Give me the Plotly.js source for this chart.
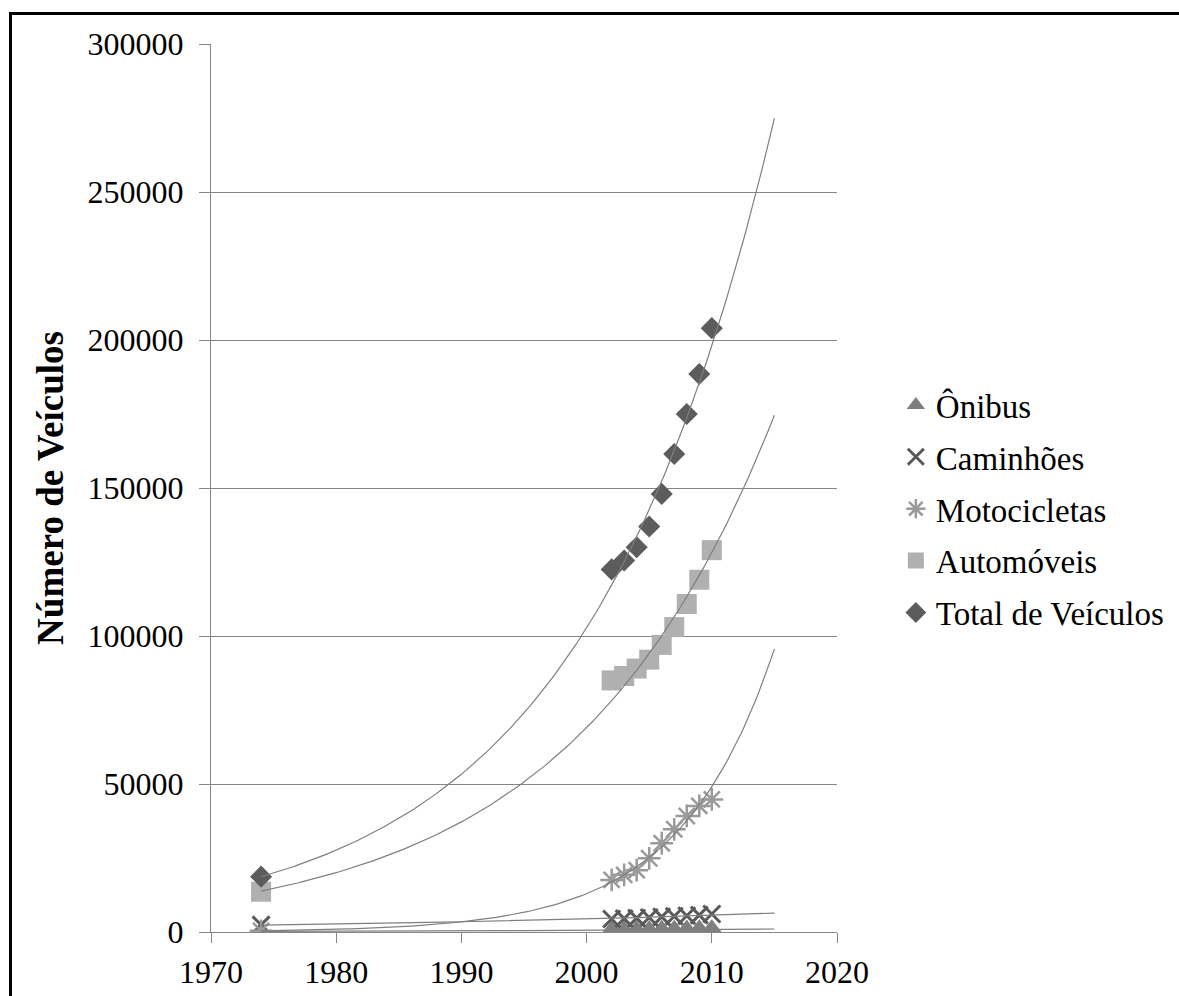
<!DOCTYPE html>
<html>
<head>
<meta charset="utf-8">
<script src="https://cdn.plot.ly/plotly-3.0.1.min.js"></script>
<style>
  html, body { margin: 0; padding: 0; background: #ffffff; }
  #wrap { position: relative; width: 1179px; height: 996px; overflow: hidden; }
  #chart { position: absolute; left: 0; top: 0; width: 1179px; height: 996px; }
  #frame { position: absolute; left: 9px; top: 12px; width: 1200px; height: 1100px;
           border-top: 3px solid #000; border-left: 3px solid #000; pointer-events: none; }
</style>
</head>
<body>
<div id="wrap">
  <div id="chart"></div>
  <div id="frame"></div>
</div>
<script>
// ---- data ----
const years = [1974, 2002, 2003, 2004, 2005, 2006, 2007, 2008, 2009, 2010];
const onibus       = [250, 560, 600, 640, 680, 720, 780, 840, 900, 960];
const caminhoes    = [2400, 4400, 4500, 4700, 4900, 5100, 5300, 5500, 5700, 6100];
const motocicletas = [400, 17600, 19300, 20900, 24900, 30000, 34700, 39200, 42600, 44800];
const automoveis   = [13600, 85000, 86500, 89000, 92000, 97000, 103000, 110800, 119000, 129000];
const totalVeic    = [18700, 122500, 125500, 130000, 137000, 148000, 161500, 175000, 188500, 204000];

const seriesNames = ["Ônibus", "Caminhões", "Motocicletas", "Automóveis", "Total de Veículos"];
const xTicks = [1970, 1980, 1990, 2000, 2010, 2020];
const yTicks = [0, 50000, 100000, 150000, 200000, 250000, 300000];
const trendFrom = 1974, trendTo = 2015;

// ---- exponential trendline (least squares on ln y, as in the spreadsheet) ----
function expFit(xs, ys) {
  const n = xs.length;
  const ly = ys.map(v => Math.log(v));
  const mx = xs.reduce((a, b) => a + b, 0) / n;
  const my = ly.reduce((a, b) => a + b, 0) / n;
  let sxy = 0, sxx = 0;
  for (let i = 0; i < n; i++) { sxy += (xs[i] - mx) * (ly[i] - my); sxx += (xs[i] - mx) ** 2; }
  const b = sxy / sxx, a = my - b * mx;
  return x => Math.exp(a + b * x);
}
function trendTrace(ys) {
  const f = expFit(years, ys);
  const tx = [], ty = [];
  for (let x = trendFrom; x <= trendTo + 1e-9; x += 0.25) { tx.push(x); ty.push(f(x)); }
  return { x: tx, y: ty, type: "scatter", mode: "lines", showlegend: false, hoverinfo: "skip",
           line: { color: "#7f7f7f", width: 1.2 } };
}

const font = "Liberation Serif, Times New Roman, serif";
const dataSets = [onibus, caminhoes, motocicletas, automoveis, totalVeic];
const markers = [
  { symbol: "triangle-up", size: 20, color: "#7f7f7f" },
  { symbol: "x-thin-open", size: 17, color: "#595959", line: { color: "#595959", width: 3 } },
  { symbol: "asterisk-open", size: 19, color: "#9a9a9a", line: { color: "#9a9a9a", width: 2.5 } },
  { symbol: "square", size: 20, color: "#b0b0b0" },
  { symbol: "diamond", size: 17, color: "#5c5c5c" }
];

const traces = [];
dataSets.forEach((ys, i) => {
  traces.push({ x: years, y: ys, name: seriesNames[i], type: "scatter", mode: "markers",
                legendgroup: "g" + i, marker: markers[i] });
});
dataSets.forEach(ys => traces.push(trendTrace(ys)));

const layout = {
  width: 1179, height: 996,
  margin: { l: 211, r: 342, t: 44, b: 64, autoexpand: false },
  paper_bgcolor: "#ffffff", plot_bgcolor: "#ffffff",
  font: { family: font, size: 32, color: "#000000" },
  showlegend: true,
  legend: { x: 1.094, xanchor: "left", y: 0.4764, yanchor: "middle",
            font: { family: font, size: 33, color: "#000000" },
            tracegroupgap: 6, bgcolor: "rgba(0,0,0,0)" },
  xaxis: {
    range: [1970, 2020], tickvals: xTicks, ticktext: xTicks.map(String),
    showgrid: false, zeroline: false, showline: true, linecolor: "#868686", linewidth: 1,
    ticks: "outside", ticklen: 10, tickcolor: "#868686", tickwidth: 1,
    ticklabelstandoff: 2, tickfont: { family: font, size: 32, color: "#000" }
  },
  yaxis: {
    range: [0, 300000], tickvals: yTicks, ticktext: yTicks.map(String),
    showgrid: true, gridcolor: "#868686", gridwidth: 1, zeroline: false,
    showline: true, linecolor: "#868686", linewidth: 1,
    ticks: "outside", ticklen: 11, tickcolor: "#868686", tickwidth: 1,
    ticklabelstandoff: 9, tickfont: { family: font, size: 32, color: "#000" },
    title: { text: "<b>Número de Veículos</b>", font: { family: font, size: 37, color: "#000" }, standoff: 12 }
  }
};

Plotly.newPlot("chart", traces, layout, { displayModeBar: false, staticPlot: true });
</script>
</body>
</html>
